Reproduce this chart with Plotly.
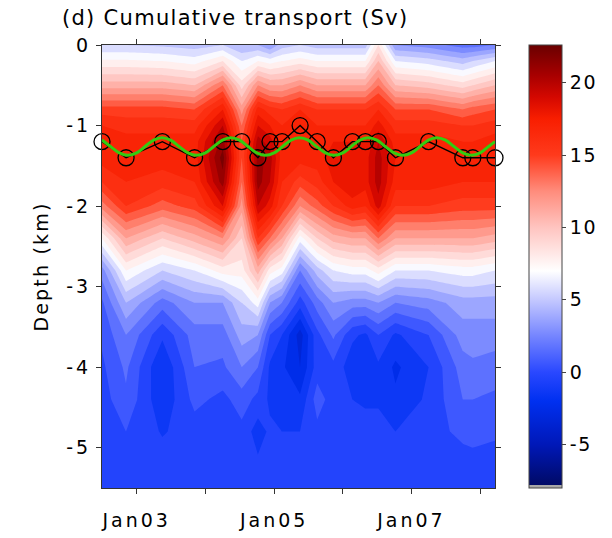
import plotly.graph_objects as go

# Section times (one transport profile per hydrographic section)
times = [
    "2002-07-01", "2002-11-06", "2003-05-18", "2003-11-05", "2004-04-03",
    "2004-07-13", "2004-10-07", "2004-12-10", "2005-02-12", "2005-05-19",
    "2005-08-18", "2005-11-12", "2006-02-21", "2006-05-01", "2006-07-09",
    "2006-10-08", "2007-04-02", "2007-10-01", "2007-11-23", "2008-03-20",
]

# Depth levels (km)
depths = [0, -0.2, -0.5, -0.8, -1.0, -1.2, -1.4, -1.7, -2.0, -2.4,
          -2.8, -3.2, -3.6, -4.0, -4.4, -4.8, -5.2, -5.5]

# Cumulative transport (Sv) per section, surface to bottom
transport = [
    [5.0, 7.2, 10.5, 14.5, 16.0, 16.5, 16.5, 15.0, 12.5, 7.0, 2.5, 0.8, 0.2, -0.2, -0.5, -0.5, -0.5, -0.5],
    [5.0, 7.2, 10.5, 14.5, 15.5, 16.5, 16.5, 16.0, 15.0, 11.0, 7.0, 4.0, 2.0, 1.2, 0.8, 0.0, -0.5, -0.5],
    [4.8, 7.0, 10.5, 14.5, 15.5, 16.5, 16.5, 15.5, 13.5, 9.0, 5.0, 1.5, -0.8, -2.0, -1.8, -1.1, -0.5, -0.5],
    [4.5, 6.5, 10.0, 14.0, 15.5, 16.5, 16.5, 16.0, 14.5, 10.5, 6.0, 3.0, 1.5, 1.0, 0.3, -0.5, -0.5, -0.5],
    [5.0, 8.0, 13.0, 17.0, 19.0, 20.5, 21.5, 20.5, 18.0, 12.0, 7.5, 3.0, 1.5, 0.8, -0.3, -0.5, -0.5, -0.5],
    [4.0, 6.0, 8.5, 11.5, 13.0, 14.0, 14.0, 13.0, 11.5, 9.0, 7.5, 5.0, 3.5, 2.0, 0.5, -0.3, -0.5, -0.5],
    [4.0, 7.0, 12.0, 16.5, 18.0, 19.5, 20.5, 20.5, 19.0, 15.0, 10.5, 6.5, 3.0, 1.0, -0.3, -1.5, -0.8, -0.5],
    [3.0, 6.5, 11.0, 15.5, 17.0, 18.5, 19.5, 19.0, 17.5, 13.0, 7.5, 3.0, 0.0, -1.2, -1.2, -0.8, -0.5, -0.5],
    [4.5, 7.0, 11.0, 15.0, 16.0, 16.5, 16.5, 16.0, 15.0, 11.0, 6.5, 2.0, -1.0, -1.8, -1.5, -1.0, -0.5, -0.5],
    [5.0, 7.5, 12.0, 16.0, 17.0, 17.0, 16.5, 14.5, 12.0, 6.5, 2.0, -0.5, -3.5, -3.0, -1.8, -1.0, -0.5, -0.5],
    [4.5, 7.0, 11.0, 15.0, 16.0, 16.5, 16.5, 15.5, 13.5, 9.0, 4.5, 1.5, -0.3, -0.5, 0.5, -0.3, -0.5, -0.5],
    [4.5, 7.0, 11.0, 15.0, 16.0, 17.0, 17.5, 17.0, 15.0, 10.5, 6.0, 3.0, 1.2, -0.3, -0.5, -0.5, -0.5, -0.5],
    [4.5, 7.0, 11.0, 15.0, 16.0, 17.0, 18.0, 18.0, 16.5, 11.0, 6.5, 2.5, -0.8, -1.6, -1.0, -0.5, -0.5, -0.5],
    [4.5, 7.0, 11.0, 15.0, 16.0, 17.0, 17.5, 17.5, 16.0, 11.0, 6.5, 2.5, -1.2, -2.0, -1.2, -0.5, -0.5, -0.5],
    [8.0, 10.0, 13.0, 16.0, 17.5, 19.0, 19.5, 19.5, 18.5, 13.0, 7.5, 3.0, 0.0, -1.2, -1.2, -0.5, -0.5, -0.5],
    [3.0, 6.0, 10.0, 14.0, 15.5, 16.5, 17.0, 16.5, 15.0, 11.0, 6.0, 2.0, -1.2, -2.2, -1.8, -1.0, -0.5, -0.5],
    [2.5, 5.5, 9.5, 14.0, 15.5, 16.5, 16.5, 16.5, 15.0, 11.0, 6.0, 2.5, 0.0, -1.0, -0.8, -0.5, -0.5, -0.5],
    [1.5, 4.5, 8.5, 13.0, 15.0, 16.0, 16.5, 16.0, 14.5, 11.0, 6.5, 3.5, 2.5, 1.5, 1.0, 0.3, -0.5, -0.5],
    [1.5, 5.0, 9.0, 13.5, 15.0, 16.0, 16.5, 16.0, 14.5, 11.0, 6.5, 3.5, 2.5, 1.8, 1.0, 0.3, -0.3, -0.5],
    [2.0, 6.0, 10.0, 14.0, 15.5, 16.5, 16.5, 16.0, 14.5, 10.5, 6.0, 3.5, 2.5, 1.5, 0.8, 0.2, -0.5, -0.5],
]

# Depth of maximum transport at each section (km)
max_depth = [-1.2, -1.4, -1.2, -1.4, -1.2, -1.2, -1.4, -1.2, -1.2, -1.0,
             -1.2, -1.4, -1.2, -1.2, -1.2, -1.4, -1.2, -1.4, -1.4, -1.4]

# Seasonal-cycle fit of the maximum depth (km)
fit_times = [
    "2002-07-01", "2002-08-15", "2002-10-01", "2002-11-15", "2003-01-01",
    "2003-02-15", "2003-04-01", "2003-05-15", "2003-07-01", "2003-08-15",
    "2003-10-01", "2003-11-15", "2004-01-01", "2004-02-15", "2004-04-01",
    "2004-05-15", "2004-07-01", "2004-08-15", "2004-10-01", "2004-11-15",
    "2005-01-01", "2005-02-15", "2005-04-01", "2005-05-15", "2005-07-01",
    "2005-08-15", "2005-10-01", "2005-11-15", "2006-01-01", "2006-02-15",
    "2006-04-01", "2006-05-15", "2006-07-01", "2006-08-15", "2006-10-01",
    "2006-11-15", "2007-01-01", "2007-02-15", "2007-04-01", "2007-05-15",
    "2007-07-01", "2007-08-15", "2007-10-01", "2007-11-15", "2008-01-01",
    "2008-02-15", "2008-03-20",
]
fit_depth = [
    -1.18, -1.26, -1.34, -1.37, -1.34,
    -1.26, -1.18, -1.15, -1.18, -1.26,
    -1.34, -1.37, -1.34, -1.26, -1.18,
    -1.15, -1.18, -1.26, -1.34, -1.37,
    -1.34, -1.26, -1.18, -1.15, -1.18,
    -1.26, -1.34, -1.37, -1.34, -1.26,
    -1.18, -1.15, -1.18, -1.26, -1.34,
    -1.37, -1.34, -1.26, -1.18, -1.15,
    -1.18, -1.26, -1.34, -1.37, -1.34,
    -1.26, -1.20,
]

# Axis ticks
x_tickvals = ["2003-01-01", "2004-01-01", "2005-01-01", "2006-01-01", "2007-01-01", "2008-01-01"]
x_ticktext = ["Jan03", "", "Jan05", "", "Jan07", ""]
y_tickvals = [0, -1, -2, -3, -4, -5]
y_ticktext = ["0", "-1", "-2", "-3", "-4", "-5"]
cb_tickvals = [-5, 0, 5, 10, 15, 20]
cb_ticktext = ["-5", "0", "5", "10", "15", "20"]

zmin, zmax = -8.0, 22.6

# Blue-white-red map, anchored at transport values
stops = [
    (-8.0, "#000a66"), (-5.0, "#0018b8"), (-2.0, "#0030f0"), (0.0, "#2a48ff"),
    (2.5, "#7585ff"), (5.0, "#c4c8ff"), (7.0, "#ffffff"), (10.0, "#ffc4c0"),
    (12.5, "#ff8c7c"), (15.0, "#ff3a1c"), (17.5, "#f81e00"), (19.0, "#d40800"),
    (20.5, "#a80000"), (22.6, "#6a0000"),
]
colorscale = [[(v - zmin) / (zmax - zmin), c] for v, c in stops]

# Continuous version for the colour bar, with the grey under-range strip at its foot
under = 0.2 / (zmax - zmin)
bar_scale = [[0.0, "#a8a8a8"], [under, "#a8a8a8"], [under, stops[0][1]]] + \
    [[(v - zmin) / (zmax - zmin), c] for v, c in stops[1:]]

z = [[transport[i][j] for i in range(len(times))] for j in range(len(depths))]

FONT = "DejaVu Sans"
W, H = 612, 538

fig = go.Figure()
fig.add_trace(go.Contour(
    x=times, y=depths, z=z,
    colorscale=colorscale, zmin=zmin, zmax=zmax,
    autocontour=False,
    contours=dict(start=-8, end=22, size=1, coloring="fill"),
    line=dict(width=0, smoothing=0),
    showscale=False,
))

fig.add_trace(go.Scatter(
    x=times, y=max_depth, mode="lines+markers",
    line=dict(color="black", width=1.4),
    marker=dict(symbol="circle-open", size=16, color="black", line=dict(width=1.3)),
    cliponaxis=False, showlegend=False,
))

fig.add_trace(go.Scatter(
    x=fit_times, y=fit_depth, mode="lines",
    line=dict(color="#33cc11", width=3, shape="spline", smoothing=1.0),
    showlegend=False,
))

# Colour bar carrier: no visible points, only the scale
fig.add_trace(go.Scatter(
    x=[None, None], y=[None, None], mode="markers", hoverinfo="skip",
    marker=dict(
        color=[zmin, zmax], cmin=zmin, cmax=zmax, colorscale=bar_scale, showscale=True,
        colorbar=dict(
            x=529 / W, xanchor="left", xref="container",
            y=0.5, yanchor="middle", yref="paper", len=1.0, lenmode="fraction",
            xpad=0, ypad=0,
            thickness=33, outlinecolor="#444444", outlinewidth=1,
            tickvals=cb_tickvals, ticktext=cb_ticktext,
            ticks="outside", ticklen=4, tickcolor="#444444",
            tickfont=dict(family=FONT, size=19, color="black"),
        ),
    ),
    showlegend=False,
))

axis_common = dict(
    showline=True, linecolor="#333333", linewidth=1, mirror="ticks",
    ticks="outside", ticklen=5, tickcolor="#333333", showgrid=False, zeroline=False,
    tickfont=dict(family=FONT, size=19, color="black"),
)

fig.update_layout(
    width=W, height=H,
    margin=dict(l=102, r=117, t=45, b=50, autoexpand=False),
    paper_bgcolor="white", plot_bgcolor="white",
    showlegend=False,
    title=dict(
        text="(d) Cumulative transport (Sv)",
        x=62 / W, xanchor="left", xref="container",
        y=1 - 18 / H, yanchor="middle", yref="container",
        font=dict(family=FONT, size=21, color="black"),
    ),
    xaxis=dict(
        axis_common, type="date", range=[times[0], times[-1]],
        tickvals=x_tickvals, ticktext=x_ticktext, ticklabelstandoff=10,
    ),
    yaxis=dict(
        axis_common, range=[-5.5, 0],
        tickvals=y_tickvals, ticktext=y_ticktext, ticklabelstandoff=1,
        title=dict(text="Depth (km)", font=dict(family=FONT, size=19, color="black"), standoff=18),
    ),
)

# Wide letter tracking for the axis, title and colorbar text
spacing_js = """
var gd = document.getElementById('{plot_id}');
function track(sel, px) {
  gd.querySelectorAll(sel).forEach(function (t) { t.style.letterSpacing = px + 'px'; });
}
track('g.xtick text', 3);
track('g.ytick text', 3);
track('text.gtitle', 1.3);
track('text.ytitle', 2.2);
track('.colorbar text', 1.5);
"""

fig.write_html("out.html", post_script=spacing_js)
